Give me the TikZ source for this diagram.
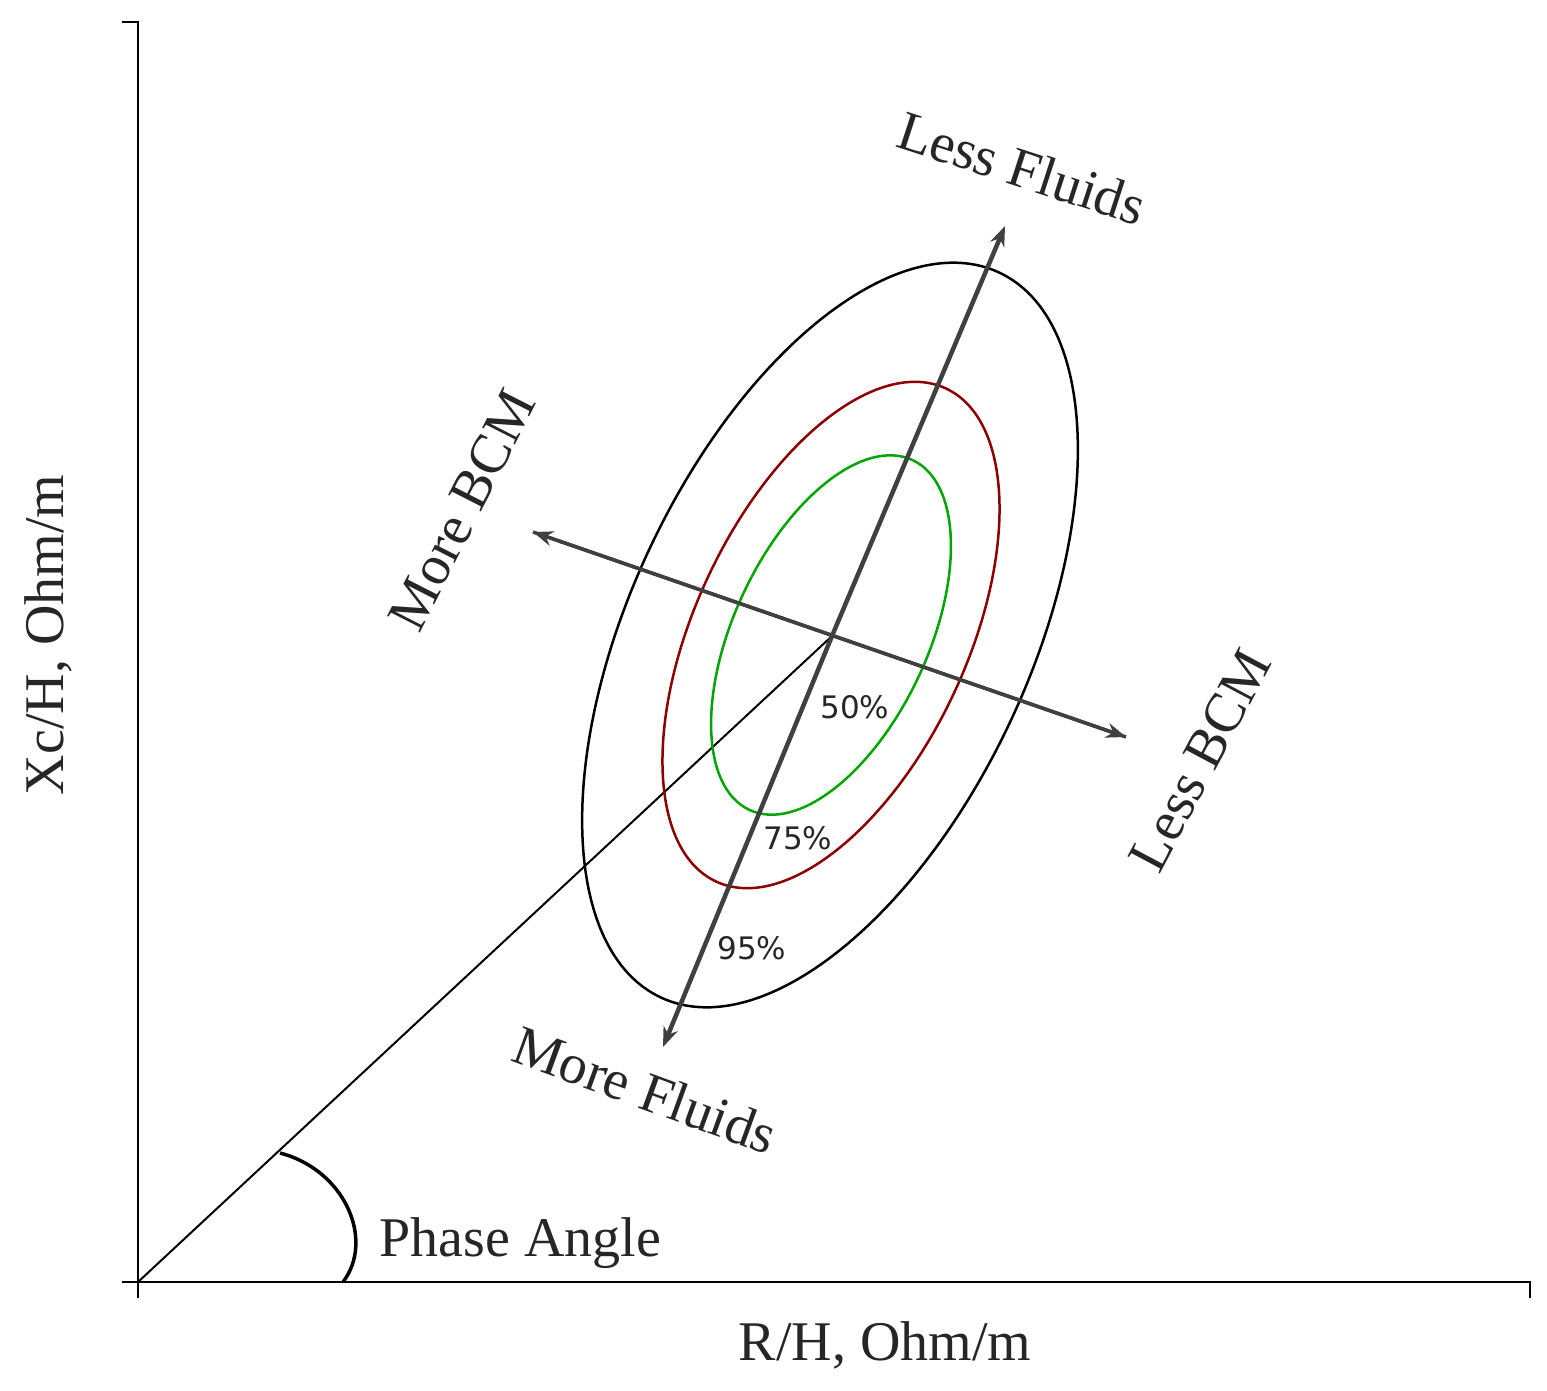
\documentclass[tikz,border=0pt]{standalone}
\usepackage{fontspec}
\setmainfont{Liberation Serif}
\newfontfamily\pct{DejaVu Sans}
\usetikzlibrary{arrows.meta}
\begin{document}
\begin{tikzpicture}[x=1pt,y=-1pt,
  lab/.style={font=\fontsize{56}{56}\selectfont,text=black!85},
  pl/.style={font=\pct\fontsize{31}{31}\selectfont,text=black!85},
  ar/.style={draw=black!75,-{Stealth[length=20pt,width=15pt]}}]
\useasboundingbox (0,0) rectangle (1547,1391);
\coordinate (O) at (138,1282);
\coordinate (C) at (832,636);
\draw[line width=2.5pt] (122,22) -- (138,22) -- (138,1298);
\draw[line width=2.5pt] (122,1282) -- (1530,1282) -- (1530,1298);
\draw[line width=2pt] (O) -- (C);
\draw[line width=3.5pt] (280,1153) .. controls (345,1170) and (375,1240) .. (343,1282);
\draw[line width=2.5pt,rotate around={65:(830,635)}] (830,635) ellipse [x radius=400,y radius=200];
\draw[line width=2.5pt,draw=red!55!black,rotate around={65:(831,635)}] (831,635) ellipse [x radius=272,y radius=136];
\draw[line width=2.5pt,draw=green!65!black,rotate around={65:(831,635)}] (831,635) ellipse [x radius=193,y radius=97];
\coordinate (LF) at (1005,226);
\coordinate (MF) at (663,1047);
\coordinate (MB) at (533,532);
\coordinate (LB) at (1126,737);
\draw[ar,line width=4.5pt] (C) -- (LF);
\draw[ar,line width=4.5pt] (C) -- (MF);
\draw[ar,line width=3.5pt] (MB) -- (LB);
\draw[ar,line width=3.5pt] (LB) -- (MB);
\node[lab,rotate=-18] (lf) at (1022,168) {Less Fluids};
\node[lab,rotate=-20] (mf) at (645,1090) {More Fluids};
\node[lab,rotate=63] (mb) at (462,510) {More BCM};
\node[lab,rotate=62] (lb) at (1200,760) {Less BCM};
\node[pl] (p50) at (855,707) {50\%};
\node[pl] (p75) at (798,838) {75\%};
\node[pl] (p95) at (752,948) {95\%};
\node[lab,anchor=west] (pa) at (376,1243) {Phase Angle};
\node[lab] (xl) at (885,1345) {R/H, Ohm/m};
\node[lab,rotate=90] (yl) at (48,635) {Xc/H, Ohm/m};
\end{tikzpicture}
\end{document}
